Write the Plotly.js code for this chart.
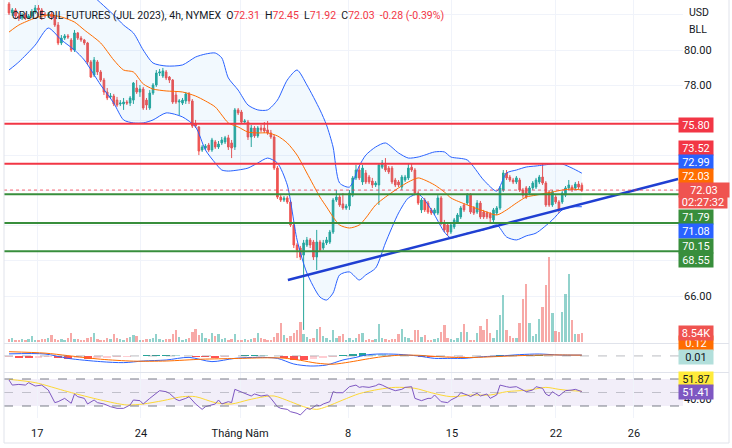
<!DOCTYPE html>
<html><head><meta charset="utf-8">
<script src="https://cdn.plot.ly/plotly-3.0.1.min.js"></script>
<style>html,body{margin:0;padding:0;background:#fff;overflow:hidden}#chart{width:732px;height:448px}</style>
</head><body><div id="chart"></div>
<script>
// ---------- DATA ----------
const OPEN=[82.62,82.11,82.28,81.94,81.82,81.99,81.82,81.94,82.16,82.39,82.28,82.05,81.94,82.05,81.88,81.42,80.40,80.68,80.80,80.57,80.00,80.97,80.68,80.57,80.40,79.32,78.58,79.32,78.75,78.29,77.61,77.33,77.38,77.15,76.93,76.93,77.04,76.98,77.15,77.84,77.61,77.78,77.15,76.70,77.55,78.01,78.69,78.52,78.75,78.46,78.29,77.44,77.04,76.98,77.10,77.50,77.10,75.79,75.62,74.31,74.42,74.59,74.31,74.77,74.48,74.71,74.77,75.00,74.71,74.48,76.59,76.47,75.90,75.90,75.05,75.56,75.11,75.56,75.56,75.45,75.28,75.05,73.28,71.63,71.46,71.58,71.35,70.04,68.90,68.73,68.33,68.90,69.19,69.07,68.22,69.07,68.73,69.02,69.07,69.64,71.46,71.63,71.24,71.01,71.12,71.74,72.72,73.17,72.49,73.00,72.77,72.54,72.32,72.32,73.33,73.46,73.28,73.28,72.60,72.49,72.20,72.60,72.72,73.33,73.17,71.86,70.90,71.46,71.29,70.90,70.72,70.72,71.58,70.15,70.04,69.64,69.93,70.21,70.50,71.18,71.29,71.74,71.01,70.78,71.29,70.78,70.72,70.67,70.33,70.72,71.01,72.03,73.00,72.77,72.60,72.49,72.60,72.03,72.15,71.86,72.15,72.20,72.49,72.77,72.43,71.92,71.18,71.63,71.35,71.35,71.74,72.15,72.20,72.15,72.37,72.31];
const HIGH=[82.73,82.39,82.39,82.11,82.11,82.11,82.05,82.33,82.56,82.56,82.39,82.16,82.16,82.16,81.99,81.59,80.85,80.91,80.91,80.68,81.14,81.02,80.80,80.63,80.46,79.43,79.60,79.43,78.86,78.41,77.84,77.55,77.50,77.33,77.15,77.27,77.15,77.38,78.18,78.29,78.01,77.90,77.27,77.72,78.12,78.86,78.92,78.98,78.86,78.52,78.35,77.61,77.21,77.27,77.61,77.61,77.21,76.02,75.67,74.59,74.65,74.71,75.00,74.88,74.82,75.05,75.11,75.17,74.88,76.70,76.70,76.59,76.07,76.02,75.73,75.67,75.67,75.73,75.90,75.96,75.45,75.17,73.40,71.74,71.69,71.69,71.46,70.15,69.02,68.85,69.19,69.36,69.30,69.19,69.76,69.19,69.19,69.36,69.76,71.58,72.03,71.74,71.86,71.24,72.03,72.83,73.46,73.40,73.46,73.17,72.89,72.72,72.54,73.57,73.74,73.85,73.40,73.40,72.72,72.60,72.89,72.89,73.57,73.57,73.28,71.97,71.58,71.58,71.41,71.01,71.01,71.74,71.69,70.33,70.21,70.21,70.44,70.72,71.12,71.29,71.86,71.86,71.12,71.46,71.41,70.90,70.84,70.78,71.01,71.12,72.26,73.17,73.17,72.89,72.72,72.83,72.72,72.15,72.26,72.26,72.54,72.72,72.89,73.57,72.54,72.03,72.03,71.74,71.46,71.97,72.26,72.60,72.32,72.49,72.54,72.45];
const LOW=[81.99,81.94,81.76,81.65,81.71,81.71,81.76,81.82,82.05,81.88,81.71,81.82,81.82,81.71,81.31,80.28,80.28,80.57,80.63,79.89,79.89,80.57,80.46,80.28,79.15,78.41,78.46,78.58,78.18,77.44,77.15,77.21,76.81,76.76,76.81,76.59,76.87,76.81,76.93,77.50,77.33,76.59,76.59,76.59,77.44,77.90,78.52,78.41,78.29,78.12,76.93,76.93,76.30,76.87,76.93,76.93,75.56,75.56,74.02,74.20,74.31,74.20,74.20,74.37,74.37,74.59,74.65,74.31,73.85,74.31,76.30,75.79,75.85,74.88,74.48,75.00,75.00,75.33,75.28,75.17,74.94,73.17,71.52,71.35,71.35,71.24,69.93,68.73,68.16,68.05,64.07,68.79,68.73,68.05,67.48,68.51,68.62,68.90,68.96,69.53,71.35,71.07,70.90,70.90,70.90,71.63,72.60,72.60,72.32,72.37,72.37,72.15,72.20,71.18,73.23,73.06,72.94,72.37,72.20,72.20,72.03,72.49,72.60,73.06,71.74,71.18,70.72,70.78,70.67,70.61,70.61,70.61,70.04,69.64,69.42,69.53,69.81,70.10,70.38,70.78,71.18,70.67,70.61,70.67,70.38,70.38,70.38,70.21,70.21,70.61,70.90,71.92,72.60,72.49,72.37,72.37,71.92,71.58,71.52,71.74,72.03,72.09,72.37,72.32,71.07,71.07,71.07,71.24,70.72,71.24,71.63,72.03,71.92,72.03,72.09,71.92];
const CLOSE=[82.11,82.28,81.94,81.82,81.99,81.82,81.94,82.16,82.39,82.28,82.05,81.94,82.05,81.88,81.42,80.40,80.68,80.80,80.74,80.00,80.97,80.68,80.57,80.40,79.32,78.46,79.43,78.75,78.29,77.61,77.27,77.38,76.93,76.87,76.98,77.04,76.98,77.27,78.12,77.61,77.78,76.70,76.87,77.55,78.01,78.69,78.75,78.81,78.41,78.29,77.04,77.04,77.10,77.15,77.50,77.10,75.67,75.67,74.25,74.48,74.54,74.31,74.88,74.48,74.65,74.88,75.00,74.48,74.42,76.59,76.42,75.90,75.96,75.05,75.56,75.11,75.56,75.45,75.39,75.28,75.05,73.28,71.63,71.46,71.58,71.35,70.04,68.90,68.62,68.22,69.02,69.19,68.90,68.22,69.07,68.62,69.02,69.19,69.64,71.46,71.63,71.18,71.01,71.12,71.86,72.72,73.17,72.72,73.28,72.49,72.49,72.32,72.43,73.46,73.57,73.17,73.06,72.49,72.32,72.32,72.77,72.77,73.28,73.17,71.86,71.29,71.46,70.90,70.78,70.72,70.90,71.58,70.15,69.76,69.64,70.04,70.33,70.61,71.01,70.90,71.74,70.78,70.72,71.29,70.50,70.50,70.50,70.44,70.90,71.01,72.15,73.00,72.72,72.60,72.49,72.72,72.03,71.74,71.63,72.15,72.43,72.60,72.77,72.43,71.18,71.18,71.92,71.35,70.90,71.86,72.15,72.32,72.03,72.37,72.20,72.03];
const VOLUME=[3200,4200,2300,1700,3200,2300,2900,5600,2300,1700,3200,2900,4200,6600,3200,2300,2900,2300,4200,8800,3200,2900,2300,2300,4200,4900,8800,3200,2300,2300,3900,3200,8100,3900,3200,1700,4200,4900,6600,5600,2300,2300,3200,2900,4200,8100,3200,2300,2900,3200,8100,11500,4900,2300,2900,4200,9800,13000,6900,8800,4200,3200,8800,5900,8100,3200,4200,2300,2900,7500,2300,2300,2900,2300,3200,4200,8800,3900,3200,2300,2300,4900,8800,18600,6600,4200,5900,8800,12100,19600,7500,4900,3200,4200,13000,14700,5900,4200,2300,11500,4200,5900,8100,2300,4200,2300,3900,8100,8800,1700,2900,2300,2900,17300,4200,3200,2300,2900,3200,8100,13000,4900,4200,2300,11500,12100,4900,6600,2300,2300,3200,4200,9800,16400,4200,3200,2300,4200,9800,17300,9800,2300,2300,8800,15400,11800,22800,8800,4200,11500,26200,45800,12100,5600,4200,4200,18600,42400,57100,18600,5600,8100,22800,34300,55600,83300,28400,10500,9800,29400,47300,66900,21300,8100,8100,8540];

// Bollinger Bands (20, 2) at these bar indices
const BB_IDX=[0,3,8,12,16,20,23,28,32,35,38,41,44,48,53,57,60,63,65,67,70,73,76,79,82,85,88,91,95,97,99,101,104,107,109,112,115,119,122,125,127,130,133,135,140,145,149,152,155,158,161,166,169,172,175];
const BB_UPPER=[84.20,84.40,84.40,84.00,83.90,83.80,83.50,82.68,81.99,81.42,80.97,80.00,79.26,79.09,79.15,79.60,79.77,79.83,79.55,78.41,77.72,76.87,76.59,76.59,77.15,78.29,78.86,78.01,76.59,75.73,74.48,72.43,72.20,73.40,74.02,74.48,74.71,74.14,73.85,73.91,74.02,74.20,74.20,73.91,73.74,72.60,71.97,73.00,73.17,73.34,73.40,73.51,73.51,73.28,72.99];
const BB_BASIS=[81.02,81.42,81.82,81.99,81.88,81.59,81.14,80.40,79.43,78.86,78.75,78.07,77.78,77.67,77.61,77.38,77.10,76.76,76.30,75.85,75.62,75.33,75.28,75.28,75.11,74.71,74.02,73.00,71.63,71.07,70.50,70.04,69.87,70.04,70.44,71.18,71.63,72.15,72.49,72.72,72.60,72.32,71.92,71.58,71.18,70.84,70.61,70.90,71.29,71.63,71.74,71.92,72.03,72.09,72.03];
const BB_LOWER=[78.86,79.32,80.28,81.25,80.57,80.00,79.43,78.01,76.98,76.02,75.85,75.85,76.02,76.42,76.19,75.62,74.31,73.57,73.17,73.11,73.17,73.28,73.57,73.85,73.57,72.32,69.19,67.31,65.94,65.77,66.17,67.20,67.37,66.91,67.20,67.59,69.02,70.72,71.58,71.80,71.46,70.61,69.64,69.30,69.58,69.76,70.04,69.36,69.19,69.42,69.58,70.33,70.90,71.07,71.08];

// Horizontal levels and the trend line drawn by the analyst
const LEVELS=[75.80,73.52,71.79,70.15,68.55];
const LEVEL_KIND=['res','res','sup','sup','sup'];
const TREND_IDX=[85.2,204.4];
const TREND_VAL=[66.91,72.66];

// MACD (12, 26, 9)
const MACD_IDX=[0,11,18,28,35,41,48,55,62,69,76,82,87,92,97,102,106,109,113,119,125,130,135,139,145,150,156,162,168,175];
const MACD_VAL=[0.30,0.28,-0.33,-0.79,-0.93,-0.70,-0.56,-0.19,-0.79,-0.33,-0.19,-0.33,-1.12,-1.40,-1.26,-0.56,-0.19,0.14,0.28,0.23,0.00,-0.33,-0.33,-0.33,-0.09,0.00,0.19,0.28,0.14,0.13];
const SIG_IDX=[0,11,18,28,38,48,59,69,79,84,89,94,99,104,109,114,119,125,130,136,142,148,154,160,166,172,175];
const SIG_VAL=[0.60,0.40,0.05,-0.45,-0.72,-0.70,-0.45,-0.35,-0.25,-0.30,-0.60,-1.00,-1.15,-0.85,-0.45,-0.10,0.10,0.10,-0.05,-0.20,-0.20,-0.10,0.02,0.10,0.15,0.13,0.12];
const HIST_IDX=[0,3,6,9,12,15,18,21,24,27,30,33,36,39,42,45,48,51,54,57,60,63,66,69,72,75,78,81,84,87,90,93,96,99,102,105,108,111,114,117,120,123,126,129,132,135,138,141,144,147,150,153,156,159,162,165,168,171,174];
const HIST_VAL=[-0.2,-0.25,-0.3,-0.25,-0.2,-0.3,-0.35,-0.3,-0.35,-0.3,-0.25,-0.2,-0.1,0.05,0.1,0.15,0.15,0.1,0.05,-0.1,-0.2,-0.25,-0.1,0.05,0.15,0.15,0.1,0.0,-0.3,-0.5,-0.55,-0.45,-0.25,-0.1,0.2,0.35,0.4,0.35,0.3,0.2,0.1,0.0,-0.1,-0.2,-0.15,-0.15,-0.1,-0.05,0.05,0.05,0.1,0.15,0.1,0.1,0.1,0.05,0.0,0.02,0.01];

// RSI (14) and its moving average
const RSI_IDX=[0,1,3,5,6,8,10,12,14,15,17,19,20,21,23,24,26,27,29,31,33,35,37,38,40,41,43,45,46,48,49,51,52,54,55,57,59,60,62,63,64,65,67,68,69,71,72,74,75,77,79,80,82,83,85,86,88,89,91,92,94,95,96,98,99,100,102,104,106,107,108,110,112,113,114,116,118,120,121,123,124,126,128,129,130,132,134,135,137,138,140,141,143,144,146,147,149,150,152,153,155,157,158,160,161,163,164,165,166,167,168,169,170,172,173,175];
const RSI_VAL=[68.5,61,62,61,64.6,59.6,61,53.7,35,36.4,41.3,34,47.8,43.8,41.3,33,38.9,35,33,29,26.5,26.5,31.5,38.9,37.9,33,41.3,49.7,52.7,51.2,48.8,39.9,37.9,41.3,43.8,33,25,29,31.5,33,38.9,33,36.4,35,54.7,51.2,48.8,44.8,47.8,44.8,46.3,41.3,29,26.5,25,21.6,19.1,16.7,26.5,25,31.5,30,33,36.4,51.2,49.7,49.7,58.6,61,57.6,58.6,57.6,60,62.6,61,56.2,52.7,54.7,57.6,58.6,41.3,37.9,41.3,41.3,46.3,36.4,35,38.9,43.8,49.7,46.3,44,48.8,44.8,47.8,41.3,46.3,61,58.6,57.6,58.6,53.7,51.2,53.7,58.6,56.2,47.8,45,51.2,48,44.8,48.8,52.7,53.7,54.7,51.41];
const RSIMA_IDX=[0,8,18,28,36,41,47,53,57,63,68,73,78,81,86,90,94,97,102,107,113,118,124,129,135,141,147,152,159,164,168,172,175];
const RSIMA_VAL=[69.5,64.6,51.2,38.9,31.5,33,37.9,43.8,43.8,35,33,38.9,43.8,44.8,36.4,29,25,29,38.9,48.3,54.7,57.6,56.2,49.7,43.8,46.3,46.3,51.2,53.7,57.6,54.7,52.7,51.87];

// Time axis
const TICK_IDX=[8.6,40.3,70.6,103.6,135.3,167.1,190.9];
const TICK_TEXT=['17','24','Tháng Năm','8','15','22','26'];
const PRICE_TICKS=[66,68,70,72,74,76,78,80,82];
const PRICE_TICK_SHOWN=[66,78,80];

const SYMBOL='CRUDE OIL FUTURES (JUL 2023), 4h, NYMEX';
const CHANGE=-0.28, CHANGE_PCT=-0.39, COUNTDOWN='02:27:32';

// ---------- DRAWING ----------
const W=732,H=448;
const FONT='Roboto, "Liberation Sans", Arial, sans-serif';
const UP='#26A69A', DOWN='#EF5350';
const px=v=>v/W, py=v=>1-v/H;
const N=CLOSE.length, last=N-1;
const BAR_IDX=CLOSE.map((_,i)=>i);

const volColors=CLOSE.map((c,i)=>c>=OPEN[i]?'rgba(38,166,154,0.5)':'rgba(239,83,80,0.5)');
const histColors=HIST_VAL.map((v,i)=>{const p=i?HIST_VAL[i-1]:v; return v>=0?(v>=p?'#26A69A':'#B2DFDB'):(v<p?'#FF5252':'#FFCDD2');});

const traces=[
 {type:'bar',x:BAR_IDX,y:VOLUME,xaxis:'x',yaxis:'y',marker:{color:volColors,line:{width:0}},width:0.72,hoverinfo:'skip'},
 {type:'scatter',mode:'lines',x:BB_IDX,y:BB_UPPER,xaxis:'x',yaxis:'y2',line:{color:'#2962FF',width:1,shape:'spline',smoothing:0.7}},
 {type:'scatter',mode:'lines',x:BB_IDX,y:BB_LOWER,xaxis:'x',yaxis:'y2',line:{color:'#2962FF',width:1,shape:'spline',smoothing:0.7},fill:'tonexty',fillcolor:'rgba(33,150,243,0.06)'},
 {type:'scatter',mode:'lines',x:BB_IDX,y:BB_BASIS,xaxis:'x',yaxis:'y2',line:{color:'#FF6D00',width:1,shape:'spline',smoothing:0.7}},
 {type:'candlestick',x:BAR_IDX,open:OPEN,high:HIGH,low:LOW,close:CLOSE,xaxis:'x',yaxis:'y2',whiskerwidth:0,
  increasing:{line:{color:UP,width:1},fillcolor:UP},decreasing:{line:{color:DOWN,width:1},fillcolor:DOWN}},
 {type:'scatter',mode:'lines',x:TREND_IDX,y:TREND_VAL,xaxis:'x',yaxis:'y2',line:{color:'#1F3FD2',width:2.5}},
 {type:'bar',x:HIST_IDX,y:HIST_VAL,xaxis:'x',yaxis:'y3',marker:{color:histColors,line:{width:0}},width:2.4},
 {type:'scatter',mode:'lines',x:MACD_IDX,y:MACD_VAL,xaxis:'x',yaxis:'y3',line:{color:'#2962FF',width:1,shape:'spline',smoothing:0.8}},
 {type:'scatter',mode:'lines',x:SIG_IDX,y:SIG_VAL,xaxis:'x',yaxis:'y3',line:{color:'#FF6D00',width:1,shape:'spline',smoothing:0.8}},
 {type:'scatter',mode:'lines',x:RSIMA_IDX,y:RSIMA_VAL,xaxis:'x',yaxis:'y4',line:{color:'#FDD835',width:1,shape:'spline',smoothing:0.8}},
 {type:'scatter',mode:'lines',x:RSI_IDX,y:RSI_VAL,xaxis:'x',yaxis:'y4',line:{color:'#7E57C2',width:1}}
];

const shapes=[];
LEVELS.forEach((v,i)=>shapes.push({type:'line',xref:'x domain',x0:0,x1:1,yref:'y2',y0:v,y1:v,
  line:{color:LEVEL_KIND[i]==='res'?'#F23645':'#388E3C',width:2}}));
shapes.push({type:'line',xref:'x domain',x0:0,x1:1,yref:'y2',y0:CLOSE[last],y1:CLOSE[last],line:{color:'rgba(242,54,69,0.75)',width:1,dash:'dot'}});
// RSI band
shapes.push({type:'rect',xref:'x domain',x0:0,x1:1,yref:'y4',y0:30,y1:70,fillcolor:'rgba(126,87,194,0.1)',line:{width:0},layer:'below'});
[70,30].forEach(v=>shapes.push({type:'line',xref:'x domain',x0:0,x1:1,yref:'y4',y0:v,y1:v,line:{color:'#787B86',width:1,dash:'dash'}}));
shapes.push({type:'line',xref:'x domain',x0:0,x1:1,yref:'y4',y0:50,y1:50,line:{color:'rgba(120,123,134,0.4)',width:1,dash:'dash'}});
// MACD last histogram line
shapes.push({type:'line',xref:'x domain',x0:0,x1:1,yref:'y3',y0:HIST_VAL[HIST_VAL.length-1],y1:HIST_VAL[HIST_VAL.length-1],line:{color:'rgba(120,123,134,0.5)',width:1,dash:'dash'}});
// pane separators and frame
[343.5,372.5].forEach(yy=>shapes.push({type:'line',xref:'paper',yref:'paper',x0:px(4),x1:px(729),y0:py(yy),y1:py(yy),line:{color:'#E0E3EB',width:1}}));
shapes.push({type:'line',xref:'paper',yref:'paper',x0:px(4),x1:px(729),y0:py(443),y1:py(443),line:{color:'#E0E3EB',width:1}});
shapes.push({type:'line',xref:'paper',yref:'paper',x0:px(4),x1:px(4),y0:py(443),y1:1,line:{color:'#E0E3EB',width:1}});
shapes.push({type:'line',xref:'paper',yref:'paper',x0:px(729),x1:px(729),y0:py(443),y1:1,line:{color:'#E0E3EB',width:1}});

const f2=v=>v.toFixed(2);
const red='#F23645';
const sp='\u00A0';
const header=SYMBOL+sp+sp+'O<span style="color:'+red+'">'+f2(OPEN[last])+'</span>'+sp+sp+'H<span style="color:'+red+'">'+f2(HIGH[last])+
 '</span>'+sp+sp+'L<span style="color:'+red+'">'+f2(LOW[last])+'</span>'+sp+sp+'C<span style="color:'+red+'">'+f2(CLOSE[last])+
 '</span>'+sp+sp+'<span style="color:'+red+'">'+f2(CHANGE)+' ('+f2(CHANGE_PCT)+'%)</span>';

const annotations=[
 {xref:'paper',yref:'paper',x:px(10),y:py(15),xanchor:'left',yanchor:'middle',showarrow:false,text:header,font:{family:FONT,size:10.5,color:'#131722'}},
 {xref:'paper',yref:'paper',x:px(687),y:py(13),xanchor:'left',yanchor:'middle',showarrow:false,text:'USD',font:{family:FONT,size:10.5,color:'#131722'}},
 {xref:'paper',yref:'paper',x:px(687),y:py(30),xanchor:'left',yanchor:'middle',showarrow:false,text:'BLL',font:{family:FONT,size:10.5,color:'#131722'}}
];
function tag(text,yc,bg,fc,w,h,pad){
  annotations.push({xref:'paper',yref:'paper',x:px(678),y:py(yc),xanchor:'left',yanchor:'middle',showarrow:false,
    text:text,bgcolor:bg,borderpad:pad==null?2:pad,width:w||30,height:h||10,align:'center',font:{family:FONT,size:11,color:fc||'#FFFFFF'}});
}
tag(f2(LEVELS[0]),124.5,'#F23645');
tag(f2(LEVELS[1]),148,'#F23645');
tag(f2(BB_UPPER[BB_UPPER.length-1]),161.5,'#2962FF');
tag(f2(BB_BASIS[BB_BASIS.length-1]),175.5,'#FF6D00');
// last price + bar countdown (two stacked pieces of one red label)
tag(COUNTDOWN,201.5,'#EF5350','#FFFFFF',47,11,0.5);
tag(f2(CLOSE[last]),189.5,'#EF5350','#FFFFFF',47,11,1.5);
tag(f2(LEVELS[2]),216.5,'#388E3C');
tag(f2(BB_LOWER[BB_LOWER.length-1]),230.5,'#2962FF');
tag(f2(LEVELS[3]),245.5,'#388E3C');
tag(f2(LEVELS[4]),259.5,'#388E3C');
tag(f2(SIG_VAL[SIG_VAL.length-1]),343,'#FF6D00');
tag((VOLUME[last]/1000).toFixed(2)+'K',333,'#EF5350');
tag(f2(HIST_VAL[HIST_VAL.length-1]),356.5,'#B2DFDB','#131722');
tag(f2(RSIMA_VAL[RSIMA_VAL.length-1]),379,'#FFEB3B','#131722');
tag(f2(RSI_VAL[RSI_VAL.length-1]),392,'#7E57C2');

const xr=[-1.53,205.9];
const layout={
 width:W,height:H,margin:{l:0,r:0,t:0,b:0},paper_bgcolor:'#FFFFFF',plot_bgcolor:'#FFFFFF',
 showlegend:false,font:{family:FONT,size:11,color:'#131722'},bargap:0,
 xaxis:{domain:[px(4),px(683)],range:xr,anchor:'y4',showgrid:true,gridcolor:'#F0F3FA',gridwidth:1,zeroline:false,
   tickmode:'array',tickvals:TICK_IDX,ticktext:TICK_TEXT,ticks:'outside',ticklen:5,tickcolor:'rgba(0,0,0,0)',
   tickfont:{family:FONT,size:11,color:'#131722'},rangeslider:{visible:false},showline:false,fixedrange:true,automargin:false},
 yaxis:{domain:[py(343),1],range:[-980,335160],visible:false,showgrid:false,zeroline:false,fixedrange:true},
 yaxis2:{overlaying:'y',anchor:'x',side:'right',range:[63.325,82.846],tickmode:'array',tickvals:PRICE_TICKS,
   ticktext:PRICE_TICKS.map(v=>PRICE_TICK_SHOWN.includes(v)?v.toFixed(2):''),showgrid:true,gridcolor:'#F0F3FA',zeroline:false,
   ticks:'',tickfont:{family:FONT,size:11,color:'#131722'},showline:false,fixedrange:true,automargin:false},
 yaxis3:{domain:[py(372),py(344)],anchor:'x',range:[-2.24,1.68],showticklabels:false,showgrid:false,zeroline:false,fixedrange:true},
 yaxis4:{domain:[py(418),py(373)],anchor:'x',side:'right',range:[12.2,78.9],tickmode:'array',tickvals:[40],ticktext:['40.00'],
   showgrid:false,zeroline:false,ticks:'',tickfont:{family:FONT,size:11,color:'#131722'},fixedrange:true,automargin:false},
 shapes:shapes,annotations:annotations
};
Plotly.newPlot('chart',traces,layout,{staticPlot:true,displayModeBar:false});
</script></body></html>
